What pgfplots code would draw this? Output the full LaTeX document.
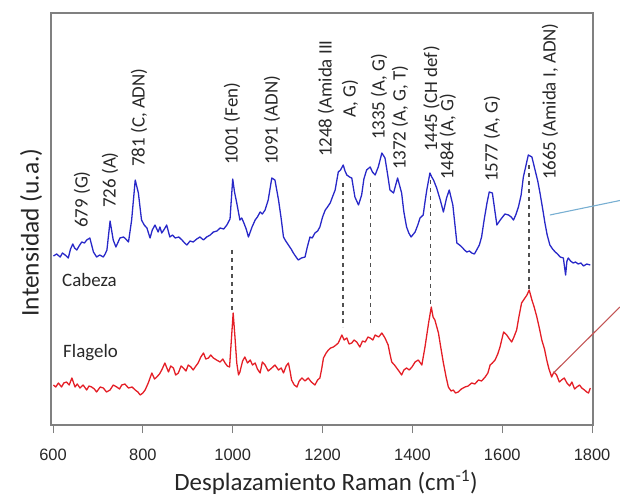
\documentclass[border=0pt]{standalone}
\usepackage{fontspec}
\setmainfont{Carlito}
\newfontfamily\arial{Liberation Sans}
\usepackage{pgfplots}
\pgfplotsset{compat=1.18}

\definecolor{cabeza}{RGB}{40,40,200}
\definecolor{flagelo}{RGB}{228,30,38}
\definecolor{marco}{RGB}{128,128,128}
\definecolor{texto}{RGB}{40,40,40}
\definecolor{guia}{RGB}{80,80,80}
\definecolor{lineaazul}{RGB}{120,175,210}
\definecolor{linearoja}{RGB}{195,85,85}

\tikzset{peak/.style={rotate=90, anchor=west, inner sep=0pt, text=texto,
    font=\fontsize{19}{24}\selectfont}}

\begin{document}
\begin{tikzpicture}
\begin{axis}[
  scale only axis,
  width=542bp, height=412bp,
  xmin=595.5, xmax=1802,
  ymin=72, ymax=484,
  clip=false,
  axis line style={draw=marco, line width=1.1bp},
  ytick=\empty,
  xtick={600,800,...,1800},
  xtick pos=left,
  tick align=outside,
  major tick length=8bp,
  tick style={draw=marco, line width=1bp},
  /pgf/number format/assume math mode=true,
  /pgf/number format/set thousands separator={},
  xticklabel style={font=\arial\fontsize{16.5}{18}\selectfont, text=texto, yshift=-12bp},
]
% guias verticales
\draw[guia, line width=1.6bp, dash pattern=on 4.5bp off 3.5bp]
  (axis cs:998,247) -- (axis cs:998,186)
  (axis cs:1245,314) -- (axis cs:1245,170)
  (axis cs:1307,314) -- (axis cs:1307,174)
  (axis cs:1440,317) -- (axis cs:1440,192)
  (axis cs:1659,332) -- (axis cs:1659,207);

% Cabeza
\addplot[cabeza, line width=1.3bp, line join=round] coordinates {
(601,241)(608,243)(616,240)(621,244)(627,242)(634,239)(639,248)(644,253)(648,249)(653,247)(658,251)(664,255)(670,254)(675,257)(682,259)(686,252)(690,245)
(697,240)(704,242)(712,240)(716,243)(720,247)(727,276)(734,257)(740,250)(745,255)(749,259)(757,260)(762,258)(768,255)(775,277)
(783,317)(790,304)(797,277)(803,272)(809,269)(816,259)(821,267)(827,272)(834,265)(838,270)(842,264)(848,268)(853,272)(860,260)
(866,262)(872,259)(880,260)(887,257)(893,254)(898,252)(905,256)(912,255)(920,258)(927,260)(935,257)(942,260)(950,262)(957,265)(965,266)(972,269)(980,268)(987,272)(994,278)
(1000,318)(1004,305)(1009,294)(1016,277)(1020,279)(1024,275)(1030,268)(1035,260)(1043,270)(1050,277)(1055,280)(1061,285)(1066,283)(1072,287)(1079,297)(1087,319)
(1094,317)(1102,297)(1108,278)(1113,260)(1118,256)(1124,252)(1130,248)(1135,244)(1141,240)(1146,237)(1153,239)(1161,240)(1166,250)(1172,260)(1177,259)(1183,264)(1189,266)(1194,270)
(1200,280)(1206,287)(1211,290)(1217,294)(1222,300)(1228,307)(1235,325)(1240,327)(1246,332)(1250,326)(1254,322)(1260,320)(1265,319)(1272,300)(1280,292)(1287,302)
(1292,318)(1298,327)(1306,330)(1311,325)(1317,322)(1324,330)(1332,344)(1339,339)(1345,322)(1350,307)(1358,304)(1367,319)(1376,304)
(1381,285)(1387,270)(1392,264)(1397,260)(1406,265)(1412,272)(1417,279)(1424,282)(1428,295)(1432,307)(1439,324)(1443,320)(1447,317)(1454,309)(1462,297)
(1469,285)(1476,299)(1482,307)(1490,292)(1499,254)(1505,252)(1510,250)(1516,247)(1521,245)(1527,246)(1532,244)(1538,243)(1543,247)(1549,252)(1554,260)
(1560,278)(1566,294)(1571,305)(1578,304)(1583,288)(1588,272)(1594,276)(1599,279)(1606,283)(1614,282)(1620,280)(1625,277)(1630,282)(1636,290)(1642,302)(1647,320)(1652,330)(1658,342)
(1666,340)(1673,327)(1679,316)(1684,304)(1690,288)(1695,274)(1700,262)(1706,252)(1712,248)(1718,245)(1723,243)(1729,240)(1736,239)(1741,222)(1744,236)(1747,239)
(1752,236)(1758,234)(1763,235)(1769,233)(1775,234)(1781,231)(1788,233)(1796,232)
};

% Flagelo
\addplot[flagelo, line width=1.3bp, line join=round] coordinates {
(601,112)(606,110)(612,114)(619,110)(624,114)(630,115)(636,112)(642,119)(649,110)(654,113)(660,109)(667,112)(675,107)(680,111)(686,110)(692,108)(697,105)
(705,110)(712,109)(719,105)(727,107)(734,112)(742,110)(748,108)(753,112)(760,113)(768,109)(776,110)(783,107)(789,105)(794,102)(800,104)(805,107)(812,114)(820,124)
(826,118)(831,120)(837,123)(842,127)(849,134)(857,125)(862,131)(868,129)(873,122)(879,124)(885,131)(890,129)(896,126)(901,132)(907,130)(912,127)(918,131)(923,134)
(929,140)(935,144)(940,138)(946,139)(951,142)(957,139)(964,137)(972,135)(978,138)(983,134)(988,131)(993,130)(998,164)(1001,184)(1005,160)(1009,134)
(1013,122)(1016,125)(1022,136)(1027,140)(1033,134)(1039,137)(1044,132)(1050,134)(1055,128)(1061,124)(1066,135)(1072,132)(1079,126)(1087,129)(1094,132)(1102,127)(1108,129)(1113,124)(1119,131)(1124,134)
(1128,125)(1131,117)(1137,112)(1143,110)(1148,116)(1154,119)(1161,116)(1168,119)(1175,115)(1183,112)(1189,117)(1194,119)(1198,128)(1202,139)(1208,144)(1213,147)(1218,149)(1224,150)(1230,152)(1235,154)
(1243,162)(1248,157)(1254,159)(1259,153)(1265,154)(1270,157)(1276,155)(1283,150)(1289,156)(1295,155)(1301,160)(1306,159)(1312,157)(1317,162)(1325,160)(1332,164)(1339,159)
(1346,152)(1350,143)(1354,135)(1360,132)(1365,129)(1370,126)(1376,122)(1381,127)(1387,129)(1393,127)(1399,130)(1406,135)(1413,137)(1418,134)(1421,132)(1428,150)
(1436,174)(1442,190)(1446,180)(1450,177)(1458,164)(1463,150)(1469,134)(1475,120)(1480,110)(1486,106)(1491,107)(1496,104)(1502,105)(1509,108)(1517,110)(1524,111)(1532,114)
(1539,113)(1547,117)(1554,116)(1562,120)(1568,124)(1573,132)(1578,134)(1584,137)(1590,143)(1595,150)(1603,165)(1610,162)(1616,158)(1621,155)(1626,160)(1632,167)(1637,180)(1643,194)
(1649,198)(1655,202)(1660,207)(1666,197)(1671,190)(1677,180)(1683,168)(1688,157)(1694,148)(1699,137)(1704,128)(1710,120)(1715,125)(1721,122)(1727,115)(1732,117)(1738,119)(1744,114)
(1750,111)(1755,115)(1761,108)(1766,110)(1772,112)(1777,109)(1783,107)(1788,105)(1792,104)(1796,109)
};

% lineas de llamada hacia la derecha
\draw[lineaazul, line width=1.1bp] (axis cs:1706,282) -- (axis cs:1862,296.5);
\draw[linearoja, line width=1.1bp] (axis cs:1714,124) -- (axis cs:1862,190);

% asignaciones de bandas
\node[peak] at (axis cs:664.6,269) {679 (G)};
\node[peak] at (axis cs:726.9,289) {726 (A)};
\node[peak] at (axis cs:791.5,330) {781 (C, ADN)};
\node[peak] at (axis cs:998.5,332) {1001 (Fen)};
\node[peak] at (axis cs:1087.6,332) {1091 (ADN)};
\node[peak, align=center] at (axis cs:1234.5,340) {1248 (Amida III\\A, G)};
\node[peak] at (axis cs:1325.8,357) {1335 (A, G)};
\node[peak] at (axis cs:1372.5,327) {1372 (A, G, T)};
\node[peak] at (axis cs:1442.5,345) {1445 (CH def)};
\node[peak] at (axis cs:1478.5,317) {1484 (A, G)};
\node[peak] at (axis cs:1577.4,315) {1577 (A, G)};
\node[peak] at (axis cs:1706.5,317) {1665 (Amida I, ADN)};

\node[anchor=base west, inner sep=0pt, text=texto, font=\fontsize{19}{23}\selectfont]
  at (axis cs:620,210) {Cabeza};
\node[anchor=base west, inner sep=0pt, text=texto, font=\fontsize{19}{23}\selectfont]
  at (axis cs:622.3,140) {Flagelo};

% titulos de ejes
\node[anchor=base, inner sep=0pt, text=black!85, font=\fontsize{25}{30}\selectfont]
  at (axis cs:1207.8,7) {Desplazamiento Raman (cm\textsuperscript{-1})};
\node[rotate=90, anchor=center, inner sep=0pt, text=black!85, font=\fontsize{25.5}{30}\selectfont]
  at (axis cs:551,264.5) {Intensidad (u.a.)};
\end{axis}
\pgfresetboundingbox
\useasboundingbox ([shift={(-51bp,-72bp)}]current axis.south west) rectangle ++(620bp,497bp);
\end{tikzpicture}
\end{document}
